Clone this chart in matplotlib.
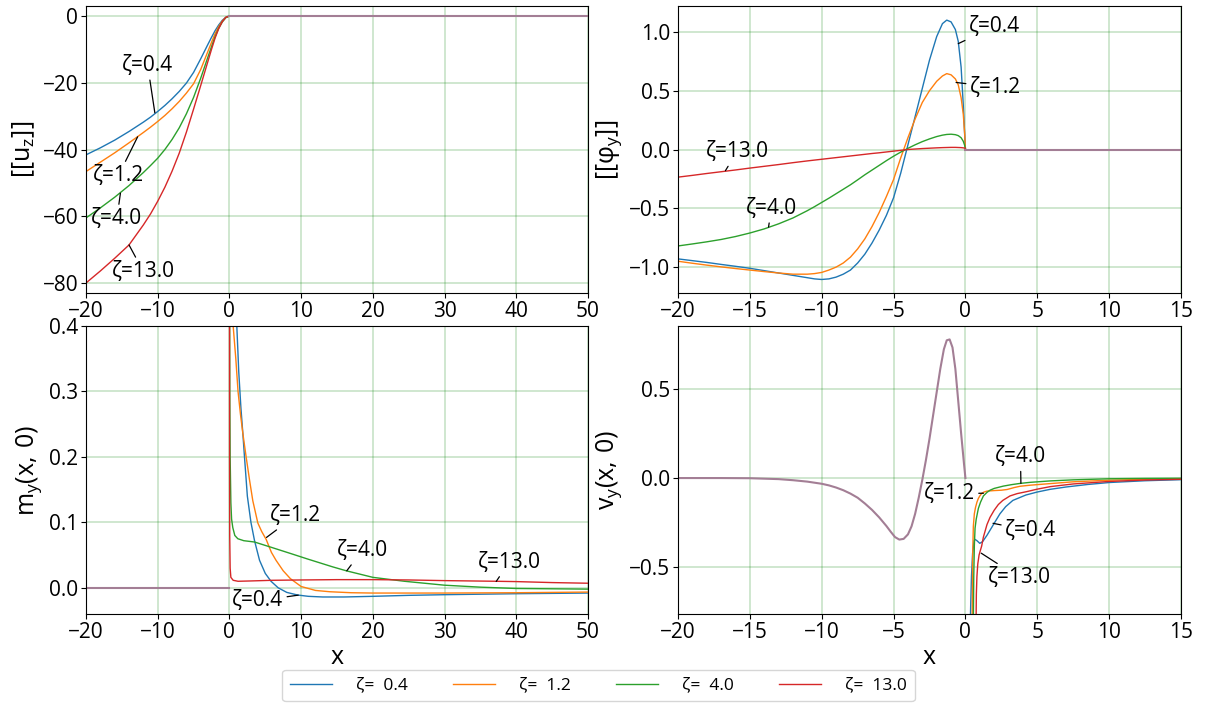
import matplotlib
matplotlib.use("Agg")
import matplotlib.pyplot as plt

# ---------------- data ----------------
zetas = [0.4, 1.2, 4.0, 13.0]
legend_labels = ["ζ=  0.4", "ζ=  1.2", "ζ=  4.0", "ζ=  13.0"]
colors = ["#1f77b4", "#ff7f0e", "#2ca02c", "#d62728"]
common_color = "#a37e95"

# Panel (a): [[u_z]] for x<0 (zero for x>0)
uz_x = [-20, -18, -16, -14, -12, -11, -10, -9, -8, -7, -6, -5, -4, -3, -2.5, -2, -1.5, -1, -0.5, 0]
uz_04 = [-41.6, -39.5, -37.2, -34.6, -31.8, -30.3, -28.6, -26.8, -24.8, -22.6, -20.1, -16.9, -12.8, -8.5, -6.4, -4.4, -2.7, -1.3, -0.35, 0]
uz_12 = [-46.6, -43.8, -41.0, -38.0, -34.9, -33.3, -31.6, -29.8, -27.8, -25.6, -23.1, -20.3, -16.0, -10.6, -7.9, -5.3, -3.2, -1.5, -0.4, 0]
uz_40 = [-60.5, -57.5, -54.3, -50.8, -46.9, -44.8, -42.6, -40.0, -37.0, -33.5, -29.3, -24.4, -18.6, -12.3, -9.2, -6.2, -3.7, -1.8, -0.5, 0]
uz_130 = [-80.0, -76.4, -72.6, -68.6, -62.6, -59.3, -55.5, -51.3, -46.5, -41.1, -34.8, -27.9, -20.8, -13.6, -10.0, -6.6, -3.8, -1.7, -0.4, 0]
uz_zero_x = [0, 50]
uz_zero_y = [0, 0]

# Panel (b): [[phi_y]] for x<0 (zero for x>0)
phi_x = [-20, -19, -18, -17, -16, -15, -14, -13, -12, -11, -10.5, -10, -9.5, -9, -8.5, -8, -7.5, -7,
         -6.5, -6, -5.5, -5, -4.5, -4, -3.5, -3, -2.5, -2, -1.6, -1.3, -1, -0.7, -0.5, -0.3, -0.15,
         -0.05, 0]
phi_04 = [-0.93, -0.945, -0.96, -0.977, -0.993, -1.01, -1.03, -1.05, -1.07, -1.09, -1.1, -1.105, -1.1,
          -1.085, -1.06, -1.025, -0.965, -0.89, -0.795, -0.685, -0.56, -0.41, -0.2, 0.04, 0.28, 0.52,
          0.76, 0.96, 1.07, 1.10, 1.085, 1.02, 0.92, 0.7, 0.38, 0.12, 0.0]
phi_12 = [-0.95, -0.967, -0.983, -0.998, -1.012, -1.025, -1.038, -1.05, -1.06, -1.06, -1.055, -1.045,
          -1.025, -1.0, -0.965, -0.915, -0.845, -0.76, -0.655, -0.535, -0.4, -0.255, -0.07, 0.1, 0.26,
          0.40, 0.5, 0.58, 0.625, 0.645, 0.635, 0.6, 0.55, 0.44, 0.3, 0.13, 0.0]
phi_40 = [-0.82, -0.803, -0.785, -0.765, -0.74, -0.71, -0.675, -0.632, -0.582, -0.52, -0.486, -0.45,
          -0.414, -0.376, -0.338, -0.3, -0.258, -0.215, -0.175, -0.135, -0.095, -0.057, -0.022, 0.01,
          0.04, 0.067, 0.09, 0.11, 0.122, 0.128, 0.13, 0.126, 0.118, 0.1, 0.07, 0.035, 0.005]
phi_130 = [-0.235, -0.22, -0.204, -0.189, -0.174, -0.158, -0.143, -0.128, -0.112, -0.097, -0.09, -0.083,
           -0.076, -0.069, -0.062, -0.055, -0.048, -0.041, -0.034, -0.028, -0.021, -0.014, -0.007, 0.0,
           0.004, 0.008, 0.011, 0.014, 0.016, 0.017, 0.018, 0.018, 0.017, 0.016, 0.014, 0.012, 0.01]
phi_zero_x = [0, 15]
phi_zero_y = [0, 0]

# Panel (c): m_y(x,0) for x>0 (zero for x<0)
my_x_04 = [1.03, 1.3, 1.6, 1.87, 2.1, 2.5, 3.0, 3.5, 4.2, 5.0, 5.8, 6.8, 8.0, 9.5, 11, 13, 16, 20, 25, 30, 40, 50]
my_04 = [0.4, 0.33, 0.275, 0.236, 0.2, 0.14, 0.1, 0.072, 0.042, 0.022, 0.01, 0.0, -0.007, -0.011, -0.013,
         -0.014, -0.014, -0.013, -0.0115, -0.0105, -0.009, -0.008]
my_x_12 = [0.52, 0.89, 1.2, 1.54, 1.87, 2.33, 2.8, 3.26, 3.96, 4.5, 5.12, 5.86, 6.5, 7.5, 8.5, 10, 12, 14,
           17, 20, 30, 40, 50]
my_12 = [0.4, 0.35, 0.3, 0.265, 0.236, 0.2, 0.165, 0.133, 0.099, 0.086, 0.074, 0.054, 0.042, 0.026, 0.014,
         0.002, -0.004, -0.006, -0.0075, -0.008, -0.008, -0.0075, -0.0065]
my_x_40 = [0.03, 0.05, 0.1, 0.2, 0.3, 0.47, 0.75, 1.17, 2.0, 3.49, 5.8, 8.65, 10.9, 14.4, 16.3, 20, 24.4,
           30, 35, 40, 50]
my_40 = [0.45, 0.3, 0.2, 0.13, 0.105, 0.092, 0.08, 0.075, 0.072, 0.07, 0.062, 0.052, 0.044, 0.032, 0.026,
         0.016, 0.01, 0.004, 0.001, -0.001, -0.002]
my_x_130 = [0.01, 0.02, 0.04, 0.1, 0.2, 0.52, 1.2, 3, 6, 10, 15, 20, 25, 30, 37.2, 40, 45, 50]
my_130 = [0.45, 0.2, 0.08, 0.03, 0.016, 0.0115, 0.01, 0.0105, 0.0115, 0.012, 0.0125, 0.0125, 0.012, 0.011,
          0.01, 0.0095, 0.008, 0.007]
my_zero_x = [-20, 0]
my_zero_y = [0, 0]

# Panel (d): v_y(x,0): common part for x<0, separate curves for x>0
vy_common_x = [-20, -17, -15, -13, -12, -11, -10, -9.5, -9, -8.5, -8, -7.5, -7, -6.5, -6, -5.5, -5.2,
               -4.9, -4.6, -4.3, -4.0, -3.75, -3.5, -3.25, -3.0, -2.75, -2.5, -2.25, -2.0, -1.75, -1.5,
               -1.3, -1.1, -0.9, -0.7, -0.5, -0.3, -0.1, 0]
vy_common = [0, 0, -0.001, -0.006, -0.012, -0.02, -0.032, -0.041, -0.053, -0.068, -0.087, -0.11, -0.142,
             -0.178, -0.22, -0.268, -0.3, -0.33, -0.344, -0.34, -0.315, -0.27, -0.2, -0.11, -0.01, 0.1,
             0.22, 0.35, 0.48, 0.61, 0.72, 0.77, 0.775, 0.73, 0.61, 0.43, 0.25, 0.08, 0.0]
vy_x_04 = [0.34, 0.37, 0.42, 0.5, 0.6, 0.67, 0.8, 1.0, 1.2, 1.5, 1.8, 2.06, 2.4, 2.8, 3.3, 4.2, 5.0, 5.9,
           7, 8.5, 10, 12.5, 15]
vy_04 = [-0.8, -0.7, -0.55, -0.42, -0.35, -0.343, -0.35, -0.365, -0.355, -0.32, -0.28, -0.245, -0.2, -0.16,
         -0.125, -0.095, -0.078, -0.063, -0.05, -0.036, -0.025, -0.015, -0.009]
vy_x_12 = [0.47, 0.5, 0.55, 0.62, 0.7, 0.8, 0.9, 1.0, 1.13, 1.3, 1.5, 2.0, 2.5, 2.9, 3.4, 3.8, 4.5, 5.9,
           7.5, 10, 12.5, 15]
vy_12 = [-0.8, -0.45, -0.27, -0.2, -0.165, -0.135, -0.114, -0.1, -0.086, -0.078, -0.073, -0.07, -0.068,
         -0.064, -0.053, -0.046, -0.04, -0.031, -0.021, -0.012, -0.007, -0.004]
vy_x_40 = [0.55, 0.58, 0.62, 0.67, 0.75, 0.9, 1.05, 1.25, 1.5, 1.71, 2.0, 2.64, 3.2, 3.8, 4.5, 5.9, 7.5,
           10, 12.5, 15]
vy_40 = [-0.8, -0.55, -0.38, -0.28, -0.23, -0.17, -0.135, -0.1, -0.08, -0.068, -0.058, -0.045, -0.037,
         -0.03, -0.024, -0.016, -0.01, -0.004, -0.002, -0.001]
vy_x_130 = [0.74, 0.76, 0.8, 0.86, 0.95, 1.02, 1.13, 1.25, 1.5, 1.71, 2.0, 2.29, 2.6, 3.1, 3.6, 4.26, 5.0,
            5.9, 7.5, 10, 12.5, 15]
vy_130 = [-0.8, -0.65, -0.55, -0.48, -0.43, -0.41, -0.38, -0.33, -0.26, -0.22, -0.18, -0.148, -0.125, -0.1,
          -0.087, -0.076, -0.062, -0.048, -0.033, -0.019, -0.011, -0.007]

# labels: (text, text x, text y, tip x, tip y)
ann_uz = [("ζ=0.4", -11.4, -14.8, -10.4, -29.0),
          ("ζ=1.2", -15.5, -47.9, -12.8, -36.2),
          ("ζ=4.0", -15.7, -60.8, -15.2, -53.1),
          ("ζ=13.0", -12.0, -76.6, -14.0, -68.6)]
ann_phi = [("ζ=0.4", 2.0, 1.045, -0.5, 0.9),
           ("ζ=1.2", 2.1, 0.53, -0.65, 0.57),
           ("ζ=13.0", -15.9, -0.02, -16.7, -0.18),
           ("ζ=4.0", -13.5, -0.5, -13.7, -0.66)]
ann_my = [("ζ=1.2", 9.2, 0.110, 5.17, 0.077),
          ("ζ=4.0", 18.5, 0.057, 16.36, 0.026),
          ("ζ=13.0", 39.0, 0.039, 37.2, 0.0097),
          ("ζ=0.4", 3.9, -0.020, 9.6, -0.0112)]
ann_vy = [("ζ=4.0", 3.83, 0.119, 3.86, -0.03),
          ("ζ=1.2", -1.14, -0.086, 1.25, -0.085),
          ("ζ=0.4", 4.55, -0.295, 1.92, -0.253),
          ("ζ=13.0", 3.73, -0.556, 1.1, -0.42)]

# ---------------- style ----------------
FONT = "Open Sans"
plt.rcParams["font.family"] = [FONT, "DejaVu Sans"]
plt.rcParams["mathtext.fontset"] = "custom"
plt.rcParams["mathtext.rm"] = FONT
plt.rcParams["mathtext.it"] = FONT
plt.rcParams["mathtext.bf"] = FONT
plt.rcParams["axes.unicode_minus"] = True

TICK_FS = 15
LABEL_FS = 18
ANN_FS = 15
LW = 1.0

fig = plt.figure(figsize=(12.07, 7.03), dpi=100)
W, H = 1207.0, 703.0


def add_ax(l, t, r, b):
    return fig.add_axes([l / W, 1 - b / H, (r - l) / W, (b - t) / H])


ax_uz = add_ax(86, 6, 588, 293)
ax_phi = add_ax(678, 6, 1181, 293)
ax_my = add_ax(86, 326, 588, 614)
ax_vy = add_ax(678, 326, 1181, 614)

for ax in (ax_uz, ax_phi, ax_my, ax_vy):
    ax.grid(True, color="green", alpha=0.22, linewidth=1.2)
    ax.set_axisbelow(True)
    ax.tick_params(labelsize=TICK_FS, pad=2)


def annotate(ax, items):
    for txt, tx, ty, px, py in items:
        ax.annotate(txt, xy=(px, py), xytext=(tx, ty), fontsize=ANN_FS,
                    ha="center", va="center",
                    arrowprops=dict(arrowstyle="-", color="black", lw=0.9,
                                    shrinkA=1, shrinkB=0))


# (a) [[u_z]]
handles = []
for ys, c, lab in zip([uz_04, uz_12, uz_40, uz_130], colors, legend_labels):
    h, = ax_uz.plot(uz_x, ys, color=c, lw=LW, label=lab)
    handles.append(h)
ax_uz.plot(uz_zero_x, uz_zero_y, color=common_color, lw=1.5)
ax_uz.set_xlim(-20, 50)
ax_uz.set_ylim(-83, 3)
ax_uz.set_xticks(range(-20, 51, 10))
ax_uz.set_yticks([0, -20, -40, -60, -80])
ax_uz.set_ylabel(r"$[[\mathrm{u_z}]]$", fontsize=LABEL_FS)
annotate(ax_uz, ann_uz)

# (b) [[phi_y]]
for ys, c in zip([phi_04, phi_12, phi_40, phi_130], colors):
    ax_phi.plot(phi_x, ys, color=c, lw=LW)
ax_phi.plot(phi_zero_x, phi_zero_y, color=common_color, lw=1.5)
ax_phi.set_xlim(-20, 15)
ax_phi.set_ylim(-1.22, 1.22)
ax_phi.set_xticks(range(-20, 16, 5))
ax_phi.set_yticks([-1.0, -0.5, 0.0, 0.5, 1.0])
ax_phi.set_ylabel(r"$[[\mathrm{\varphi_y}]]$", fontsize=LABEL_FS)
annotate(ax_phi, ann_phi)

# (c) m_y(x,0)
ax_my.plot(my_zero_x, my_zero_y, color=common_color, lw=1.5)
for xs, ys, c in zip([my_x_04, my_x_12, my_x_40, my_x_130], [my_04, my_12, my_40, my_130], colors):
    ax_my.plot(xs, ys, color=c, lw=LW)
ax_my.set_xlim(-20, 50)
ax_my.set_ylim(-0.04, 0.4)
ax_my.set_xticks(range(-20, 51, 10))
ax_my.set_yticks([0.0, 0.1, 0.2, 0.3, 0.4])
ax_my.set_ylabel(r"$\mathrm{m_y(x,\,0)}$", fontsize=LABEL_FS)
ax_my.set_xlabel("x", fontsize=LABEL_FS, labelpad=2)
annotate(ax_my, ann_my)

# (d) v_y(x,0)
ax_vy.plot(vy_common_x, vy_common, color=common_color, lw=1.5)
for xs, ys, c in zip([vy_x_04, vy_x_12, vy_x_40, vy_x_130], [vy_04, vy_12, vy_40, vy_130], colors):
    ax_vy.plot(xs, ys, color=c, lw=LW)
ax_vy.set_xlim(-20, 15)
ax_vy.set_ylim(-0.76, 0.85)
ax_vy.set_xticks(range(-20, 16, 5))
ax_vy.set_yticks([-0.5, 0.0, 0.5])
ax_vy.set_ylabel(r"$\mathrm{v_y(x,\,0)}$", fontsize=LABEL_FS)
ax_vy.set_xlabel("x", fontsize=LABEL_FS, labelpad=2)
annotate(ax_vy, ann_vy)

fig.legend(handles=handles, labels=legend_labels, loc="center", bbox_to_anchor=(598.5 / W, 1 - 685.5 / H),
           ncol=4, fontsize=12.5, handlelength=2.4, handletextpad=1.4, columnspacing=2.6,
           frameon=True, borderpad=0.45)

fig.savefig("out.png", dpi=100)
